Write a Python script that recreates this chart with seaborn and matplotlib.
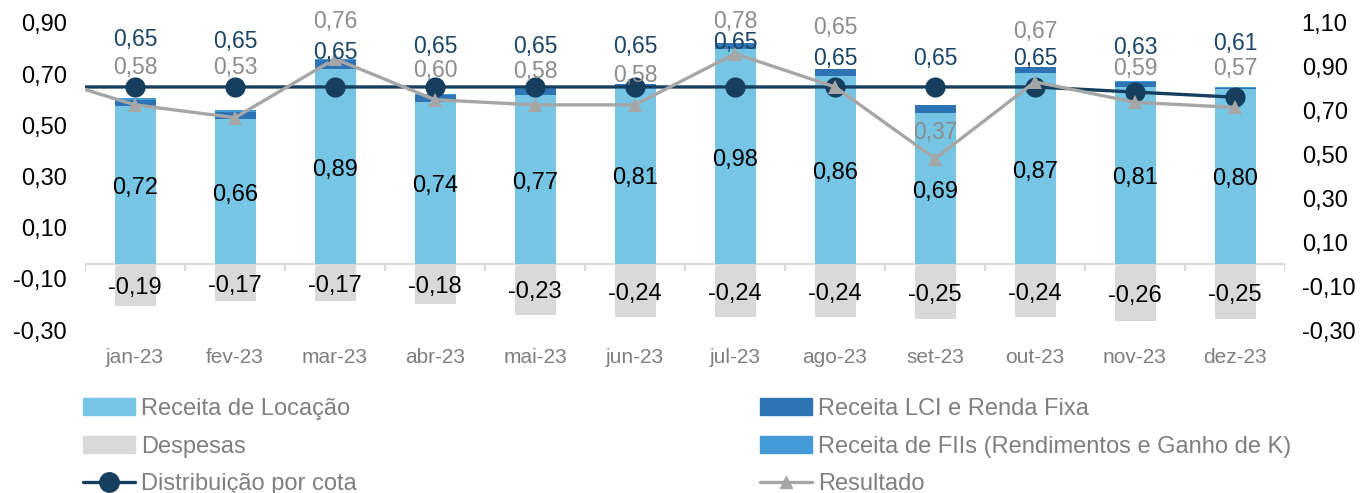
import numpy as np
import matplotlib.pyplot as plt
import seaborn as sns
from matplotlib.patches import Patch
from matplotlib.lines import Line2D

# dados (R$ por cota)
meses = ['jan-23', 'fev-23', 'mar-23', 'abr-23', 'mai-23', 'jun-23',
         'jul-23', 'ago-23', 'set-23', 'out-23', 'nov-23', 'dez-23']
receita_locacao = [0.72, 0.66, 0.89, 0.74, 0.77, 0.81, 0.98, 0.86, 0.69, 0.87, 0.81, 0.80]
receita_lci = [0.030, 0.035, 0.040, 0.030, 0.030, 0.010, 0.027, 0.030, 0.038, 0.030, 0.020, 0.004]
receita_fiis = [0.008, 0.010, 0.008, 0.008, 0.005, 0.000, 0.000, 0.002, 0.000, 0.000, 0.005, 0.002]
despesas = [-0.19, -0.17, -0.17, -0.18, -0.23, -0.24, -0.24, -0.24, -0.25, -0.24, -0.26, -0.25]
distribuicao = [0.65, 0.65, 0.65, 0.65, 0.65, 0.65, 0.65, 0.65, 0.65, 0.65, 0.63, 0.61]
resultado = [0.58, 0.53, 0.76, 0.60, 0.58, 0.58, 0.78, 0.65, 0.37, 0.67, 0.59, 0.57]
# dez-22: ponto anterior, so aparece o segmento cortado na borda
distribuicao_ant = 0.65
resultado_ant = 0.70

# deslocamento dos rotulos (pixels acima do ponto), posicionados a mao no original
off_dist = [47, 45, 34, 40, 40, 40, 44, 28, 28, 28, 45, 54]
off_res = [37, 50, 37, 29, 33, 29, 32, 59, 26, 50, 34, 39]

C_LOC = '#76C5E5'
C_LCI = '#2E74B5'
C_FII = '#459BD8'
C_DESP = '#D9D9D9'
C_DIST = '#163F5F'
C_RES = '#A6A6A6'
C_TXT = '#7F7F7F'


def fmt(v):
    return f'{v:.2f}'.replace('.', ',')


sns.set_theme(style='white')
plt.rcParams['font.family'] = ['Liberation Sans', 'DejaVu Sans']

fig = plt.figure(figsize=(13.6, 4.93), dpi=100)
ax = fig.add_axes([85 / 1360, 1 - 330 / 493, 1200 / 1360, 307 / 493])
ax2 = ax.twinx()

x = np.arange(len(meses))
loc = np.array(receita_locacao)
lci = np.array(receita_lci)
fii = np.array(receita_fiis)

# barras empilhadas (eixo da direita)
ax.axhline(0, color=C_DESP, lw=1.5, zorder=0)
ax.vlines(np.arange(-0.5, len(meses)), -0.032, 0, color=C_DESP, lw=1.5, zorder=0)
sns.barplot(x=meses, y=loc + lci + fii, color=C_FII, saturation=1, width=0.41,
            errorbar=None, edgecolor='none', ax=ax)
sns.barplot(x=meses, y=loc + lci, color=C_LCI, saturation=1, width=0.41,
            errorbar=None, edgecolor='none', ax=ax)
sns.barplot(x=meses, y=loc, color=C_LOC, saturation=1, width=0.41,
            errorbar=None, edgecolor='none', ax=ax)
sns.barplot(x=meses, y=despesas, color=C_DESP, saturation=1, width=0.41,
            errorbar=None, edgecolor='none', ax=ax)

for i in x:
    ax.annotate(fmt(loc[i]), (i, loc[i] / 2), xytext=(0, -3), textcoords='offset pixels',
                ha='center', va='center', fontsize=17, color='black')
    ax.annotate(fmt(despesas[i]), (i, despesas[i] / 2), xytext=(0, -3),
                textcoords='offset pixels', ha='center', va='center', fontsize=17,
                color='black')

# linhas (eixo da esquerda)
xl = np.arange(-1, len(meses))
sns.lineplot(x=xl, y=[distribuicao_ant] + distribuicao, color=C_DIST, lw=2.4,
             marker='o', markersize=14.5, markeredgewidth=0, ax=ax2)
sns.lineplot(x=xl, y=[resultado_ant] + resultado, color=C_RES, lw=2.4,
             marker='^', markersize=10, markeredgewidth=0, ax=ax2)

for i in x:
    ax2.annotate(fmt(distribuicao[i]), (i, distribuicao[i]),
                 xytext=(0, off_dist[i]), textcoords='offset pixels', ha='center',
                 va='center', fontsize=16.5, color='#1B4566')
    ax2.annotate(fmt(resultado[i]), (i, resultado[i]),
                 xytext=(0, off_res[i]), textcoords='offset pixels', ha='center',
                 va='center', fontsize=16.5, color='#8C8C8C')

# eixos
ax.set_xlim(-0.5, len(meses) - 0.5)
ax.set_ylim(-0.3, 1.1)
ax2.set_ylim(-0.3, 0.9)
ax.set_yticks(np.arange(-0.3, 1.11, 0.2))
ax.set_yticklabels([fmt(v) for v in np.arange(-0.3, 1.11, 0.2)])
ax2.set_yticks(np.arange(-0.3, 0.91, 0.2))
ax2.set_yticklabels([fmt(v) for v in np.arange(-0.3, 0.91, 0.2)])
ax.yaxis.tick_right()
ax2.yaxis.tick_left()
ax.tick_params(axis='y', length=0, pad=12, labelsize=17, labelcolor='black')
ax2.tick_params(axis='y', length=0, pad=13, labelsize=17, labelcolor='black')
ax.set_xticks(x)
ax.set_xticklabels(meses)
ax.tick_params(axis='x', length=0, pad=13, labelsize=15, labelcolor=C_TXT)
ax.set_xlabel('')
ax.set_ylabel('')
ax2.set_ylabel('')
for a in (ax, ax2):
    for s in a.spines.values():
        s.set_visible(False)
    a.grid(False)

# legenda em duas colunas
h_esq = [Patch(color=C_LOC, label='Receita de Locação'),
         Patch(color=C_DESP, label='Despesas'),
         Line2D([], [], color=C_DIST, lw=2.4, marker='o', markersize=14, label='Distribuição por cota')]
h_dir = [Patch(color=C_LCI, label='Receita LCI e Renda Fixa'),
         Patch(color=C_FII, label='Receita de FIIs (Rendimentos e Ganho de K)'),
         Line2D([], [], color=C_RES, lw=2.4, marker='^', markersize=9, label='Resultado')]
kw = dict(frameon=False, fontsize=17, labelcolor=C_TXT, handlelength=2.2,
          handletextpad=0.25, labelspacing=0.66, borderpad=0, borderaxespad=0, loc='upper left')
fig.legend(handles=h_esq, bbox_to_anchor=(83 / 1360, 1 - 398 / 493), **kw)
fig.legend(handles=h_dir, bbox_to_anchor=(760 / 1360, 1 - 398 / 493), **kw)

fig.savefig('out.png', dpi=100)
